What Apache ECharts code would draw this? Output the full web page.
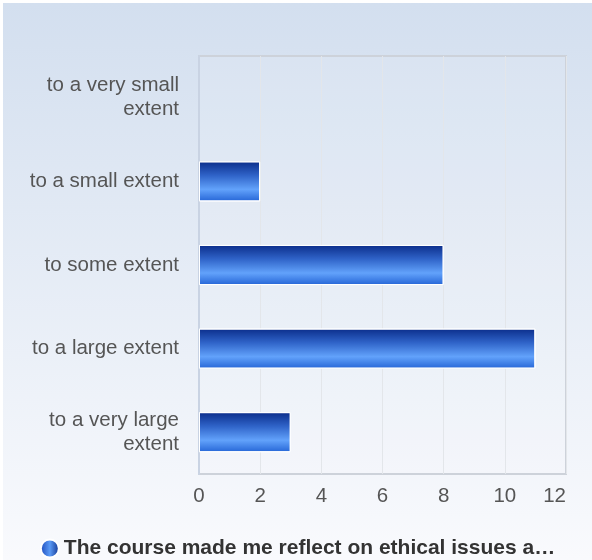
<!DOCTYPE html>
<html><head><meta charset="utf-8">
<script src="https://cdn.jsdelivr.net/npm/echarts@6/dist/echarts.min.js"></script>
<style>html,body{margin:0;padding:0;background:#fff;}#c{position:absolute;left:3px;top:3px;width:589px;height:557px;}</style>
</head><body><div id="c"></div>
<script>
const categories = ["to a very small\nextent","to a small extent","to some extent","to a large extent","to a very large\nextent"];
const values = [0,2,8,11,3];
const seriesName = "The course made me reflect on ethical issues a…";
const xTicks = [0,2,4,6,8,10,12];

const chart = echarts.init(document.getElementById('c'));
const barGrad = new echarts.graphic.LinearGradient(0,0,0,1,[
  {offset:0,color:'#0b2d8a'},
  {offset:0.35,color:'#2f63c8'},
  {offset:0.7,color:'#62a2fb'},
  {offset:1,color:'#2565d6'}
]);
const iconGrad = new echarts.graphic.LinearGradient(0,0,1,0,[
  {offset:0,color:'#1a46b8'},
  {offset:0.5,color:'#5a9af5'},
  {offset:1,color:'#0b2d8a'}
]);
chart.setOption({
  backgroundColor: new echarts.graphic.LinearGradient(0,0,0,1,[
    {offset:0,color:'#d3dfef'},{offset:1,color:'#f9fafd'}
  ]),
  textStyle:{fontFamily:'Liberation Sans, Arial, sans-serif'},
  grid:{left:196,right:26,top:53,bottom:86,show:true,borderColor:'#cdd2da',borderWidth:2,backgroundColor:'rgba(255,255,255,0.08)'},
  xAxis:{type:'value',min:0,max:12,interval:2,
    axisLine:{show:false},axisTick:{show:false},
    splitLine:{show:true,lineStyle:{color:'#e3e6ea',width:1}},
    axisLabel:{color:'#555',fontSize:20.5,margin:12,alignMaxLabel:'right',formatter:v=>xTicks.includes(v)?String(v):''}
  },
  yAxis:{type:'category',data:categories,inverse:true,
    axisLine:{show:true,lineStyle:{color:'#c9d3e3',width:2}},axisTick:{show:false},
    axisLabel:{color:'#555',fontSize:20.5,margin:20,lineHeight:24,align:'right',padding:[6,0,0,0]}
  },
  legend:{top:530,left:'center',itemWidth:18,itemHeight:18,itemGap:9,
    textStyle:{fontSize:21,fontWeight:'bold',color:'#333'},
    data:[{name:seriesName,icon:'circle',itemStyle:{color:iconGrad}}]
  },
  series:[{name:seriesName,type:'bar',barWidth:'48%',
    data:values.map(v=>({value:v,itemStyle:v===0?{borderWidth:0,opacity:0}:{}})),
    itemStyle:{color:barGrad,borderColor:'#ffffff',borderWidth:1}}]
});
</script></body></html>
